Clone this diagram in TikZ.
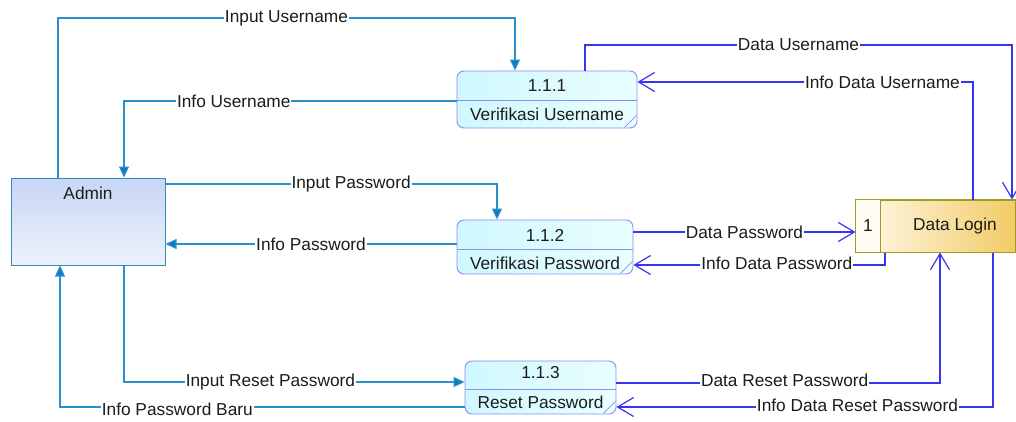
\documentclass[tikz,border=0pt]{standalone}
\usepackage{fontspec}
\setmainfont{Liberation Sans}
\usetikzlibrary{arrows.meta,calc}
\definecolor{flowA}{HTML}{2B8FCC}
\definecolor{tipA}{HTML}{0B7EC2}
\definecolor{flowB}{HTML}{3535F2}
\definecolor{procB}{HTML}{8C8CF5}
\definecolor{procT}{HTML}{CFF8FF}
\definecolor{procE}{HTML}{E9FEFF}
\definecolor{extB}{HTML}{2F8DC4}
\definecolor{extT}{HTML}{C6D6F5}
\definecolor{extE}{HTML}{EEF1FC}
\definecolor{storeB}{HTML}{9C9C24}
\definecolor{storeL}{HTML}{FFF9EC}
\definecolor{storeR}{HTML}{F2CC66}
\definecolor{storeC}{HTML}{FFFCF3}
\definecolor{ink}{HTML}{1C1C1C}
\tikzset{
  ext/.style={draw=extB, line width=1pt, top color=extT, bottom color=extE,
    minimum width=154pt, minimum height=87pt, inner sep=0pt},
  proc/.style={draw=procB, line width=0.9pt, rounded corners=7pt,
    left color=procT, right color=procE, inner sep=0pt},
  store/.style={draw=storeB, line width=1pt, left color=storeL, right color=storeR,
    minimum width=159pt, minimum height=52pt, inner sep=0pt},
  flowin/.style={draw=flowA, line width=1.1pt, -{Triangle[length=11pt,width=10pt,fill=tipA]}},
  flowout/.style={draw=flowB, line width=1.2pt, -{Straight Barb[length=16pt,width=19pt]}},
  lbl/.style={fill=white, inner sep=1pt, text=ink},
  txt/.style={text=ink, inner sep=0pt}
}
\begin{document}
\begin{tikzpicture}[x=1pt,y=-1pt,font=\fontsize{17.3}{19}\selectfont]
\useasboundingbox (0,0) rectangle (1016,421);

% entities and processes
\node[ext] (admin) at (88,221.5) {};
\node[txt] (adminL) at (88,193) {Admin};

\node[proc, minimum width=180pt, minimum height=57pt] (p1) at (547,99.5) {};
\node[proc, minimum width=176pt, minimum height=54pt] (p2) at (545,247) {};
\node[proc, minimum width=151pt, minimum height=53pt] (p3) at (540.5,387.5) {};

\foreach \p/\y in {p1/100, p2/249, p3/389}{
  \draw[procB, line width=0.9pt] (\p.west |- 0,\y) -- (\p.east |- 0,\y);
  \draw[procB, line width=0.6pt] ($(\p.south east)+(-13,-1)$) -- ($(\p.south east)+(-1,-13)$);
}
\node[txt] (p1n) at (547,86) {1.1.1};
\node[txt] (p1t) at (547,114) {Verifikasi Username};
\node[txt] (p2n) at (545,235) {1.1.2};
\node[txt] (p2t) at (545,263) {Verifikasi Password};
\node[txt] (p3n) at (540.5,373) {1.1.3};
\node[txt] (p3t) at (540.5,402) {Reset Password};

% data store
\node[store] (dl) at (935.5,226) {};
\fill[storeC] ($(dl.north west)+(0.5,0.5)$) rectangle ($(dl.south west)+(24,-0.5)$);
\draw[storeB, line width=1pt] (dl.north west) rectangle (dl.south east);
\draw[storeB, line width=1pt] (880,200) -- (880,252);
\node[txt] (dlnum) at (868,226) {1};
\node[txt] (dltxt) at (955,226) {Data Login};

% bend points
\coordinate (iu1) at (58,18);
\coordinate (iu2) at (515,18);
\coordinate (iun) at (124,101);
\coordinate (ip) at (497,184);
\coordinate (ipw) at (300,244);
\coordinate (irp) at (124,382);
\coordinate (ipb) at (60,407);
\coordinate (du1) at (585,45);
\coordinate (du2) at (1012,45);
\coordinate (idu) at (973,82);
\coordinate (dp) at (700,232);
\coordinate (idp) at (885,265);
\coordinate (drp) at (940,383);
\coordinate (idrp) at (993,407);

% flows between Admin and processes
\draw[flowin] (admin.north -| iu1) -- (iu1) -- node[lbl]{Input Username} (iu2) -- (p1.north -| iu2);
\draw[flowin] (p1.west |- iun) -- node[lbl,pos=0.67]{Info Username} (iun) -- (admin.north -| iun);
\draw[flowin] (admin.east |- ip) -- node[lbl,pos=0.56]{Input Password} (ip) -- (p2.north -| ip);
\draw[flowin] (p2.west |- ipw) -- node[lbl,pos=0.5]{Info Password} (admin.east |- ipw);
\draw[flowin] (admin.south -| irp) -- (irp) -- node[lbl,pos=0.43]{Input Reset Password} (p3.west |- irp);
\draw[flowin] (p3.west |- ipb) -- node[lbl,pos=0.71,yshift=-2pt]{Info Password Baru} (ipb) -- (admin.south -| ipb);

% flows between processes and the data store
\draw[flowout] (p1.north -| du1) -- (du1) -- node[lbl]{Data Username} (du2) -- (dl.north -| du2);
\draw[flowout] (dl.north -| idu) -- (idu) -- node[lbl,pos=0.27]{Info Data Username} (p1.east |- idu);
\draw[flowout] (p2.east |- dp) -- node[lbl]{Data Password} (dl.west |- dp);
\draw[flowout] (dl.south -| idp) -- (idp) -- node[lbl,pos=0.43,yshift=2pt]{Info Data Password} (p2.east |- idp);
\draw[flowout] (p3.east |- drp) -- node[lbl,pos=0.52,yshift=3pt]{Data Reset Password} (drp) -- (dl.south -| drp);
\draw[flowout] (dl.south -| idrp) -- (idrp) -- node[lbl,pos=0.36,yshift=2pt]{Info Data Reset Password} (p3.east |- idrp);
\end{tikzpicture}
\end{document}
